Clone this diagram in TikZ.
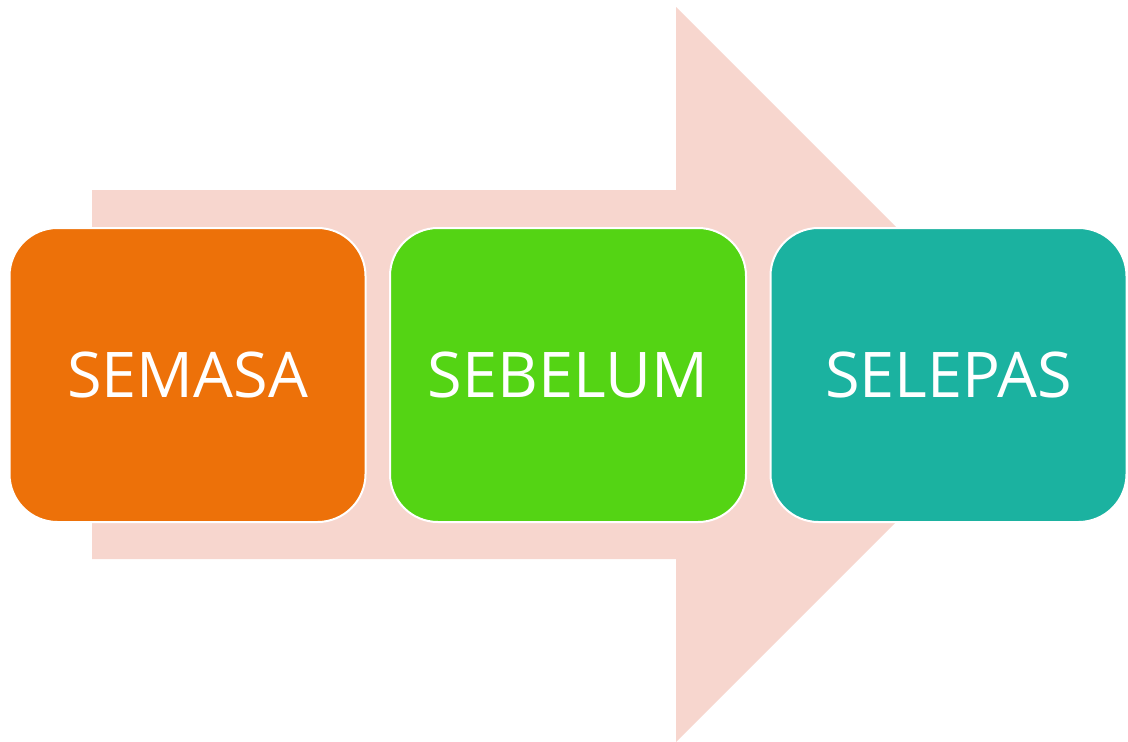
\documentclass[tikz,border=0pt]{standalone}
\usepackage{fontspec}
\setmainfont{Open Sans}
\usetikzlibrary{positioning}
\definecolor{arrowpink}{HTML}{F7D6CE}
\definecolor{boxorange}{HTML}{ED7109}
\definecolor{boxgreen}{HTML}{54D414}
\definecolor{boxteal}{HTML}{1BB2A0}
\tikzset{node distance=22.5pt, % Gap between two boxes. Change if necessary.
every box/.style={ % Sets the properties for each box
draw=white,
line width=2pt,
rounded corners=48pt,
minimum width=356pt,
minimum height=294pt,
inner sep=0pt,
text=white,
font=\fontsize{63}{75}\selectfont},
bigarrow/.style={ % Background arrow
fill=arrowpink}}

\begin{document}
\begin{tikzpicture}[x=1pt, y=-1pt]
\useasboundingbox (0,0) rectangle (1128,742);
\fill[bigarrow] (92,190) -- (676,190) -- (676,7) -- (1043.5,374.5) -- (676,742) -- (676,559) -- (92,559) -- cycle;
\node[every box, fill=boxorange] (b1) at (187.5,375) {SEMASA};
\node[every box, fill=boxgreen, right=of b1] (b2) {SEBELUM};
\node[every box, fill=boxteal, right=of b2] (b3) {SELEPAS};
\end{tikzpicture}
\end{document}
